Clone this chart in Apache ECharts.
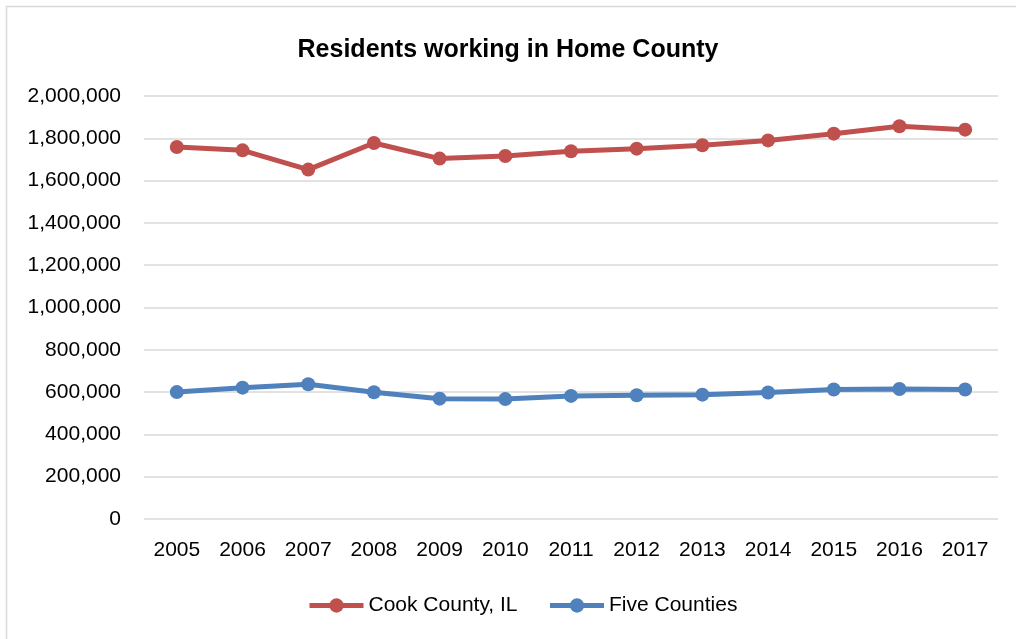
<!DOCTYPE html>
<html>
<head>
<meta charset="utf-8">
<script src="https://cdn.jsdelivr.net/npm/echarts@6/dist/echarts.min.js"></script>
<style>
  html, body { margin: 0; padding: 0; background: #fff; }
  #chart { width: 1016px; height: 639px; }
</style>
</head>
<body>
<div id="chart"></div>
<script>
// Residents working in their home county, 2005–2017
const years = ['2005','2006','2007','2008','2009','2010','2011','2012','2013','2014','2015','2016','2017'];
const cookCounty = [1759000, 1743000, 1652000, 1778000, 1704000, 1716000, 1739000, 1751000, 1767000, 1790000, 1822000, 1857000, 1841000];
const fiveCounties = [600000, 621000, 637000, 599000, 569000, 567000, 582000, 585000, 588000, 598000, 612000, 615000, 612000];
const seriesNames = ['Cook County, IL', 'Five Counties'];

const FONT = 'Liberation Sans, Arial, sans-serif';
const chart = echarts.init(document.getElementById('chart'), null, { renderer: 'canvas' });

const lineSeries = (name, data, color) => ({
  name, type: 'line', data,
  symbol: 'circle', symbolSize: 14,
  lineStyle: { width: 5, color },
  itemStyle: { color },
  emphasis: { disabled: true },
  animation: false
});

chart.setOption({
  backgroundColor: '#fff',
  title: {
    text: 'Residents working in Home County',
    left: 'center', top: 33,
    textStyle: { fontFamily: FONT, fontSize: 25, fontWeight: 'bold', color: '#000' }
  },
  graphic: [{
    type: 'rect', shape: { x: 6.5, y: 6.5, width: 1020, height: 640 },
    style: { fill: 'none', stroke: '#d9d9d9', lineWidth: 1.5 }, silent: true
  }],
  legend: {
    bottom: 18, left: 302,
    itemWidth: 54, itemHeight: 18, itemGap: 30,
    lineStyle: { width: 5 },
    textStyle: { fontFamily: FONT, fontSize: 21, color: '#000' },
    data: seriesNames
  },
  grid: { left: 144, right: 18, top: 96, bottom: 120 },
  xAxis: {
    type: 'category', data: years, boundaryGap: true,
    axisLine: { show: false }, axisTick: { show: false },
    axisLabel: { fontFamily: FONT, fontSize: 21, color: '#000', margin: 21 }
  },
  yAxis: {
    type: 'value', min: 0, max: 2000000, interval: 200000,
    axisLine: { show: false }, axisTick: { show: false },
    splitLine: { lineStyle: { color: '#d9d9d9', width: 1.5 } },
    axisLabel: {
      fontFamily: FONT, fontSize: 21, color: '#000', margin: 23,
      formatter: v => v.toLocaleString('en-US')
    }
  },
  series: [
    lineSeries(seriesNames[0], cookCounty, '#C0504D'),
    lineSeries(seriesNames[1], fiveCounties, '#4F81BD')
  ]
});
</script>
</body>
</html>
